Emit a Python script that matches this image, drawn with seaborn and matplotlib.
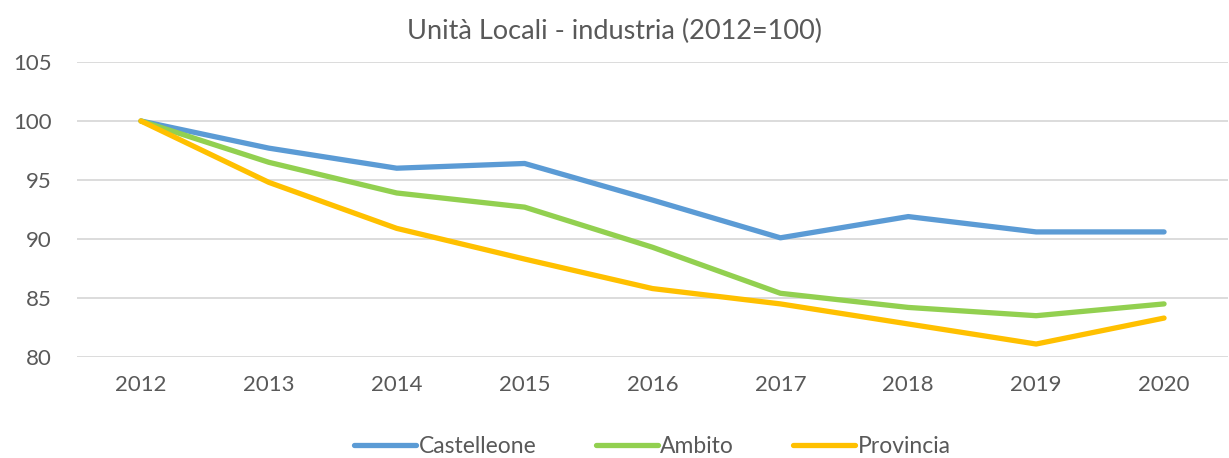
import matplotlib
matplotlib.use("Agg")
import matplotlib.pyplot as plt
import seaborn as sns
import pandas as pd

years = ["2012", "2013", "2014", "2015", "2016", "2017", "2018", "2019", "2020"]
castelleone = [100.0, 97.7, 96.0, 96.4, 93.3, 90.1, 91.9, 90.6, 90.6]
ambito = [100.0, 96.5, 93.9, 92.7, 89.3, 85.4, 84.2, 83.5, 84.5]
provincia = [100.0, 94.8, 90.9, 88.3, 85.8, 84.5, 82.8, 81.1, 83.3]
series_names = ["Castelleone", "Ambito", "Provincia"]
colors = ["#5B9BD5", "#92D050", "#FFC000"]

df = pd.DataFrame({
    "anno": years * 3,
    "indice": castelleone + ambito + provincia,
    "serie": [s for s in series_names for _ in years],
})

sns.set_theme(style="white")
plt.rcParams["font.family"] = ["Lato", "DejaVu Sans"]
text_color = "#595959"

fig = plt.figure(figsize=(12.29, 4.58), dpi=100)
ax = fig.add_axes([77 / 1229, 1 - 357 / 458, (1228 - 77) / 1229, (357 - 62) / 458])

sns.lineplot(data=df, x="anno", y="indice", hue="serie", palette=colors,
             linewidth=3.8, ax=ax, sort=False, solid_capstyle="round",
             solid_joinstyle="round")

ax.set_ylim(80, 105)
ax.set_yticks([80, 85, 90, 95, 100, 105])
ax.set_xlim(-0.5, len(years) - 0.5)
ax.yaxis.grid(True, color="#D9D9D9", linewidth=1.3)
ax.set_axisbelow(True)
for sp in ax.spines.values():
    sp.set_visible(False)
ax.tick_params(axis="both", length=0, labelsize=16, colors=text_color)
ax.tick_params(axis="x", pad=13)
ax.tick_params(axis="y", pad=18)
ax.set_xlabel("")
ax.set_ylabel("")

fig.suptitle("Unità Locali - industria (2012=100)", y=1 - 31 / 458, va="center",
             fontsize=19.5, color=text_color)

handles, labels = ax.get_legend_handles_labels()
ax.legend(handles, labels, loc="center", bbox_to_anchor=(0.5, -0.305), ncol=3,
          frameon=False, fontsize=16.5, labelcolor=text_color, handlelength=2.7,
          handletextpad=0.1, columnspacing=2.6)

fig.savefig("out.png", dpi=100)
